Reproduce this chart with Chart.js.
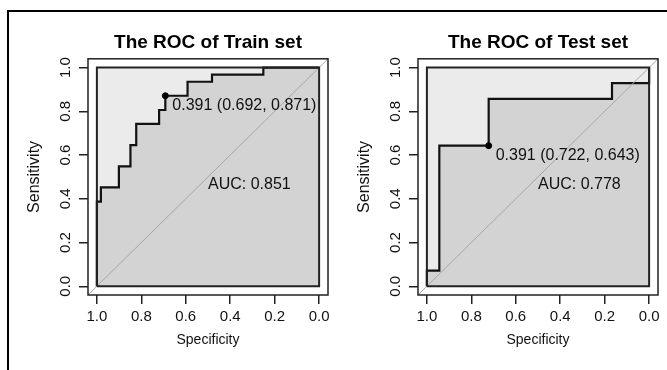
<!DOCTYPE html>
<html>
<head>
<meta charset="utf-8">
<script src="https://cdn.jsdelivr.net/npm/chart.js@4.4.1/dist/chart.umd.min.js"></script>
<style>
body{margin:0;background:#fff;width:667px;height:370px;overflow:hidden;position:relative}
.frame{position:absolute;left:7px;top:10px;width:700px;height:400px;border-top:2px solid #000;border-left:2px solid #000}
canvas{position:absolute;top:0}
</style>
</head>
<body>
<div class="frame"></div>
<canvas id="trainChart" width="335" height="370" style="left:0"></canvas>
<canvas id="testChart" width="332" height="370" style="left:335px"></canvas>
<script>
const tickValues=[0,0.2,0.4,0.6,0.8,1.0];

// train ROC steps (specificity, sensitivity)
const trainSpec=[1,1,0.982,0.982,0.901,0.901,0.849,0.849,0.823,0.823,0.72,0.72,0.692,0.692,0.592,0.592,0.482,0.482,0.251,0.251,0];
const trainSens=[0,0.387,0.387,0.452,0.452,0.548,0.548,0.645,0.645,0.742,0.742,0.806,0.806,0.871,0.871,0.935,0.935,0.968,0.968,1,1];
const trainBest=[0.391,0.692,0.871]; // threshold, spec, sens
const trainAuc=0.851;

// test ROC steps
const testSpec=[1,1,0.944,0.944,0.722,0.722,0.167,0.167,0,0];
const testSens=[0,0.071,0.071,0.643,0.643,0.857,0.857,0.929,0.929,1];
const testBest=[0.391,0.722,0.643];
const testAuc=0.778;

const FONT='"Liberation Sans", Arial, Helvetica, sans-serif';

const rocText={
    id:'rocText',
    afterDatasetsDraw(chart, args, opts) {
        const ctx=chart.ctx;
        const xs=chart.scales.x, ys=chart.scales.y;
        const area=chart.chartArea;
        ctx.save();
        // y tick labels, rotated like R
        ctx.fillStyle='#111';
        ctx.font='15px '+FONT;
        ctx.textAlign='center';
        ctx.textBaseline='middle';
        tickValues.forEach(v=> {
            ctx.save();
            ctx.translate(area.left - 22, ys.getPixelForValue(v));
            ctx.rotate(-Math.PI/2);
            ctx.fillText(v.toFixed(1), 0, 0);
            ctx.restore();
        });
        // box round the plot region
        ctx.strokeStyle='#222';
        ctx.lineWidth=1.5;
        ctx.strokeRect(area.left, area.top, area.right - area.left, area.bottom - area.top);
        // labels
        ctx.font='16px '+FONT;
        ctx.textAlign='left';
        ctx.fillStyle='#111';
        const b=opts.best;
        ctx.fillText(b[0].toFixed(3)+' ('+b[1].toFixed(3)+', '+b[2].toFixed(3)+')',
            xs.getPixelForValue(b[1]) + 7, ys.getPixelForValue(b[2]) + 10);
        ctx.fillText('AUC: '+opts.auc.toFixed(3), xs.getPixelForValue(0.5), ys.getPixelForValue(0.465));
        ctx.restore();
    }
};

function pts(spec, sens) {
    return spec.map((s, i)=> ({x: s, y: sens[i]}));
}

function makeRoc(id, title, spec, sens, best, auc, boxLeft, boxRight, canvasW) {
    const ctx=document.getElementById(id).getContext('2d');
    return new Chart(ctx, {
        type: 'line',
        data: {
            datasets: [
                {   // threshold dot
                    data: [{x: best[1], y: best[2]}],
                    showLine: false,
                    pointRadius: 3,
                    pointBackgroundColor: '#000',
                    pointBorderColor: '#000',
                    order: -1
                },
                {   // max auc square outline
                    data: pts([1,1,0,0,1],[0,1,1,0,0]),
                    borderColor: '#222',
                    borderWidth: 2,
                    pointRadius: 0,
                    fill: false,
                    order: 0
                },
                {   // identity line
                    data: pts([1.04,-0.04],[-0.04,1.04]),
                    borderColor: '#a6a6a6',
                    borderWidth: 1,
                    pointRadius: 0,
                    fill: false,
                    order: 1
                },
                {   // roc curve + auc polygon
                    data: pts(spec, sens),
                    borderColor: '#111',
                    borderWidth: 2.2,
                    backgroundColor: '#d3d3d3',
                    pointRadius: 0,
                    fill: {value: 0},
                    order: 2
                },
                {   // max auc polygon
                    data: pts([1,0],[1,1]),
                    borderWidth: 0,
                    borderColor: 'rgba(0,0,0,0)',
                    backgroundColor: '#ebebeb',
                    pointRadius: 0,
                    fill: {value: 0},
                    order: 3
                }
            ]
        },
        options: {
            responsive: false,
            animation: false,
            layout: {padding: {top: 31, left: 0, right: canvasW - boxRight, bottom: 0}},
            scales: {
                x: {
                    type: 'linear',
                    reverse: true,
                    min: -0.04,
                    max: 1.04,
                    afterBuildTicks: s=> { s.ticks=tickValues.map(v=> ({value: v})); },
                    afterFit: s=> { s.height=75; },
                    grid: {drawOnChartArea: false, drawTicks: true, tickLength: 9, color: '#222', lineWidth: 1.5},
                    border: {display: false},
                    ticks: {
                        font: {size: 15, family: FONT},
                        color: '#111',
                        padding: 4,
                        maxRotation: 0,
                        callback: v=> v.toFixed(1)
                    },
                    title: {
                        display: true,
                        text: 'Specificity',
                        font: {size: 14, family: FONT},
                        color: '#111',
                        padding: {top: 0, bottom: 21}
                    }
                },
                y: {
                    type: 'linear',
                    min: -0.04,
                    max: 1.04,
                    afterBuildTicks: s=> { s.ticks=tickValues.map(v=> ({value: v})); },
                    afterFit: s=> { s.width=boxLeft; },
                    grid: {drawOnChartArea: false, drawTicks: true, tickLength: 9, color: '#222', lineWidth: 1.5},
                    border: {display: false},
                    ticks: {display: false},
                    title: {
                        display: true,
                        text: 'Sensitivity',
                        font: {size: 16, family: FONT},
                        color: '#111',
                        padding: {top: boxLeft - 63, bottom: 0}
                    }
                }
            },
            plugins: {
                legend: {display: false},
                tooltip: {enabled: false},
                title: {
                    display: true,
                    text: title,
                    fullSize: false,
                    color: '#000',
                    font: {size: 19, weight: 'bold', family: FONT},
                    padding: {top: 0, bottom: 5}
                },
                rocText: {best: best, auc: auc}
            }
        },
        plugins: [rocText]
    });
}

makeRoc('trainChart', 'The ROC of Train set', trainSpec, trainSens, trainBest, trainAuc, 88, 328, 335);
makeRoc('testChart', 'The ROC of Test set', testSpec, testSens, testBest, testAuc, 83, 323, 332);
</script>
</body>
</html>
